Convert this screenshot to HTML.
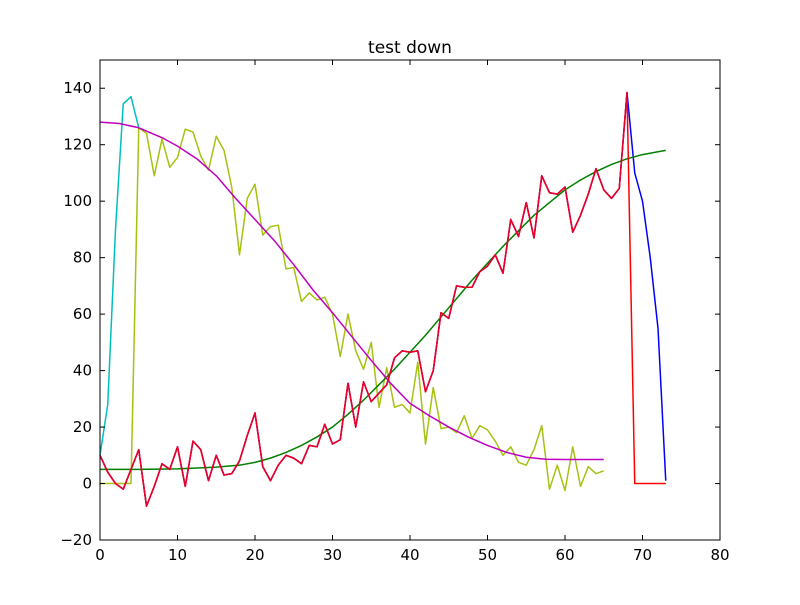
<!DOCTYPE html>
<html><head><meta charset="utf-8"><style>
body{margin:0;background:#fff;}
text{font-family:"DejaVu Sans","Liberation Sans",sans-serif;}
</style></head><body>
<svg id="chart" width="800" height="600" xmlns="http://www.w3.org/2000/svg">
<rect width="800" height="600" fill="#fff"/>
<text x="410" y="53" font-size="17" text-anchor="middle">test down</text>
<g id="plot"></g>
</svg>
<script>
const xTicks=[0,10,20,30,40,50,60,70,80];
const yTicks=[-20,0,20,40,60,80,100,120,140];
const redY=[10,4,0,-2,5,12,-8,-1,7,5,13,-1,15,12,1,10,3,3.5,8,17,25,6,1,6.5,10,9,7,13.5,13,21,14,15.5,35.5,20,36,29,32,35,44.5,47,46.5,47,32.5,40,60.5,58.5,70,69.5,69.5,75,77,81,74.5,93.5,87.5,99.5,87,109,103,102.5,105,89,95,102.5,111.5,104,101,104.5,138.5,0,0,0,0,0];
const blueTail=[110,100,80,55,1];
const olive=[0,0,0,0,0,126,124,109,122,112,115.5,125.5,124.5,116,111,123,118,105,81,101,106,88,91,91.5,76,76.5,64.5,67.5,65,66,60,45,60,47,40.5,50,27,41,27,28,25,43,14,34,19.5,20,18,24,16,20.5,19,15,10,13,7.5,6.5,12,20.5,-2,6.5,-2.5,13,-1,6,3.5,4.5];
const cyan=[10,28,90,134.5,137,126];
const greenX=[0,5,10,15,18,20,22,24,26,28,30,32,34,36,38,40,42,44,46,48,50,52,54,56,58,60,62,64,66,68,70,72,73];
const greenY=[5,5,5.2,5.8,6.5,7.5,9,11,13.5,16.5,20,24.5,29.5,35,40.5,46.5,52.5,59,65.5,72,78,84,89.5,95,99.5,104,107.5,110.5,113,115,116.5,117.5,118];
const magX=[0,2.5,5,8,10,12.5,15,17.5,20,22.5,25,27.5,30,32.5,35,37.5,40,42.5,45,47.5,50,52.5,55,57.5,60,65];
const magY=[128,127.5,126,122.5,119.5,115,109,101,93.5,86,77.5,68.5,60.5,52,43.6,35.5,28.4,24,20,16.5,13.5,11,9.3,8.6,8.5,8.5];

const L=100,R=720,T=60,B=540;
const sx=v=>L+(v-0)/(80-0)*(R-L);
const sy=v=>B-(v+20)/(170)*(B-T);
const NS='http://www.w3.org/2000/svg';
const g=document.getElementById('plot');
function mk(tag,attrs){const e=document.createElementNS(NS,tag);for(const k in attrs)e.setAttribute(k,attrs[k]);g.appendChild(e);return e;}
function line(xs,ys,color,name,w){
  const p=mk('polyline',{points:xs.map((x,i)=>sx(x)+','+sy(ys[i])).join(' '),fill:'none',stroke:color,'stroke-width':w||1.5,'stroke-linejoin':'round'});
  
  
}
const idx=n=>Array.from({length:n},(_,i)=>i);
const blueY=redY.slice(0,69).concat(blueTail);
line(idx(blueY.length),blueY,'#0000ff','series-blue');
line(idx(cyan.length),cyan,'#00bfbf','series-cyan');
line(idx(olive.length),olive,'#a8c010','series-olive');
line(greenX,greenY,'#008000','series-green-fit');
line(magX,magY,'#bf00bf','series-magenta-fit');
line(idx(redY.length),redY,'#ff0000','series-red');
line(idx(69),redY.slice(0,69),'#e8002a','series-red-overlap');
const fr=mk('rect',{x:L,y:T,width:R-L,height:B-T,fill:'none',stroke:'#000','stroke-width':1});


xTicks.forEach(v=>{
  const x=sx(v);
  mk('line',{x1:x,y1:B,x2:x,y2:B-5,stroke:'#000'});
  mk('line',{x1:x,y1:T,x2:x,y2:T+5,stroke:'#000'});
  const t=mk('text',{x:x,y:B+20,'font-size':15,'text-anchor':'middle'});
  t.textContent=v;
  
  
});
yTicks.forEach(v=>{
  const y=sy(v);
  mk('line',{x1:L,y1:y,x2:L+5,y2:y,stroke:'#000'});
  mk('line',{x1:R,y1:y,x2:R-5,y2:y,stroke:'#000'});
  const t=mk('text',{x:L-8,y:y+5,'font-size':15,'text-anchor':'end'});
  t.textContent=(v<0?'\u2212'+(-v):v);
  
  
});
</script>
</body></html>
